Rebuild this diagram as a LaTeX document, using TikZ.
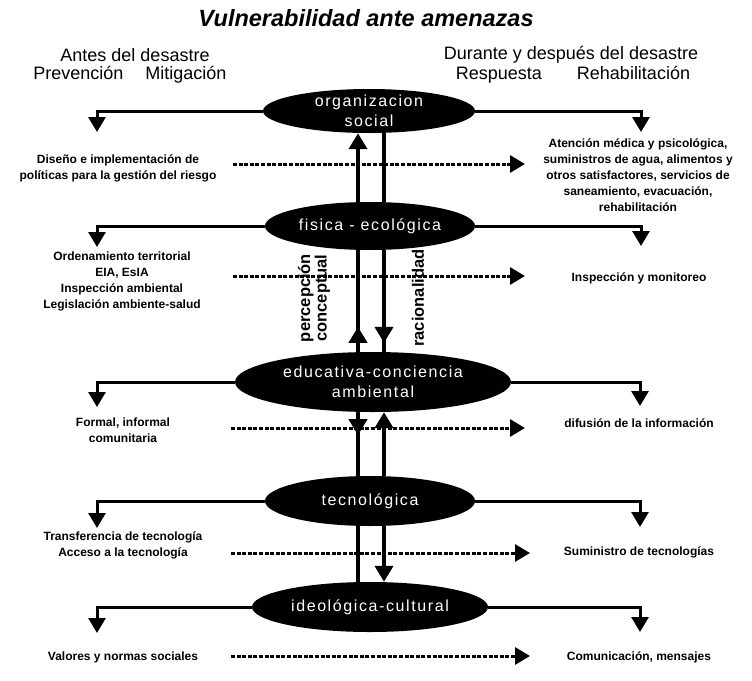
\documentclass[tikz,border=0pt]{standalone}
\usepackage{fontspec}
\setmainfont{Liberation Sans}
\newfontfamily\ellfont[LetterSpace=10]{Liberation Sans}
\usetikzlibrary{shapes.geometric,arrows.meta,decorations.markings}
\begin{document}
\begin{tikzpicture}[x=1pt,y=-1pt,
  ellshape/.style={ellipse, fill=black, draw=none, inner sep=0pt},
  elltxt/.style={text=white, align=center, inner sep=0pt, font=\ellfont\fontsize{16}{20}\selectfont},
  tipb/.style={-{Triangle[length=15pt,width=17pt]}},
  branch/.style={line width=3pt, tipb},
  vline/.style={line width=4pt},
  vtip/.style={-{Triangle[length=16pt,width=18pt]}},
  midup/.style={postaction={decorate}, decoration={markings, mark=at position #1 with {\arrow{Triangle[length=16pt,width=18pt]}}}},
  dots/.style={line width=3pt, dash pattern=on 4pt off 1.6pt, tipb},
  lbl/.style={align=center, inner sep=0pt, font=\bfseries\fontsize{12}{16}\selectfont},
  hdr/.style={align=center, inner sep=0pt, font=\fontsize{18}{20}\selectfont},
  rot/.style={rotate=90, align=center, inner sep=0pt, font=\bfseries\fontsize{16.5}{15}\selectfont}
]
\fill[white] (0,0) rectangle (752,680);
\useasboundingbox (0,0) rectangle (752,680);

% title and headers
\node[inner sep=0pt, font=\bfseries\itshape\fontsize{23.5}{26}\selectfont] (title) at (366,18) {Vulnerabilidad ante amenazas};
\node[hdr] (hL1) at (135,55) {Antes del desastre};
\node[hdr] (hL2) at (130,75) {Prevención\hspace{22pt}Mitigación};
\node[hdr] (hR1) at (571,55) {Durante y después del desastre};
\node[hdr] (hR2) at (573,75) {Respuesta\hspace{35pt}Rehabilitación};

% ellipses
\node[ellshape, minimum width=212pt, minimum height=44pt] (org) at (369,111) {};
\node[ellshape, minimum width=210pt, minimum height=48pt] (fis) at (370,226) {};
\node[ellshape, minimum width=276pt, minimum height=60pt] (edu) at (373,382) {};
\node[ellshape, minimum width=210pt, minimum height=50pt] (tec) at (370,501) {};
\node[ellshape, minimum width=236pt, minimum height=50pt] (ide) at (370,607) {};
\node[elltxt] (orgT) at (org.center) {organizacion\\social};
\node[elltxt] (fisT) at (fis.center) {fisica - ecológica};
\node[elltxt] (eduT) at (edu.center) {educativa-conciencia\\ambiental};
\node[elltxt] (tecT) at (tec.center) {tecnológica};
\node[elltxt] (ideT) at (ide.center) {ideológica-cultural};

% branch arrows
\coordinate (bL1) at (97,132);  \coordinate (bR1) at (641,132);
\coordinate (bL2) at (97,247);  \coordinate (bR2) at (641,246);
\coordinate (bL3) at (97,407);  \coordinate (bR3) at (640,406);
\coordinate (bL4) at (97,528);  \coordinate (bR4) at (640,527);
\coordinate (bL5) at (97,633);  \coordinate (bR5) at (640,632);
\draw[branch] (org.west) -| (bL1);
\draw[branch] (org.east) -| (bR1);
\draw[branch] (fis.west) -| (bL2);
\draw[branch] (fis.east) -| (bR2);
\draw[branch] (edu.west) -| (bL3);
\draw[branch] (edu.east) -| (bR3);
\draw[branch] (tec.west) -| (bL4);
\draw[branch] (tec.east) -| (bR4);
\draw[branch] (ide.west) -| (bL5);
\draw[branch] (ide.east) -| (bR5);

% dotted arrows
\coordinate (dL1) at (233,164); \coordinate (dR1) at (525,164);
\coordinate (dL2) at (233,276); \coordinate (dR2) at (525,276);
\coordinate (dL3) at (231,428); \coordinate (dR3) at (525,428);
\coordinate (dL4) at (231,553); \coordinate (dR4) at (530,553);
\coordinate (dL5) at (231,656); \coordinate (dR5) at (530,656);
\draw[dots] (dL1) -- (dR1);
\draw[dots] (dL2) -- (dR2);
\draw[dots] (dL3) -- (dR3);
\draw[dots] (dL4) -- (dR4);
\draw[dots] (dL5) -- (dR5);

% vertical connectors
\coordinate (xl) at (358,0);
\coordinate (xr) at (384,0);
\draw[vline, vtip] (fis.north -| xl) -- (org.south -| xl);
\draw[vline] (fis.north -| xr) -- (org.south -| xr);
\draw[vline, midup=25pt] (edu.north -| xl) -- (fis.south -| xl);
\draw[vline, midup=-9pt] (fis.south -| xr) -- (edu.north -| xr);
\draw[vline, midup=23pt] (edu.south -| xl) -- (tec.north -| xl);
\draw[vline, vtip] (tec.north -| xr) -- (edu.south -| xr);
\draw[vline] (tec.south -| xl) -- (ide.north -| xl);
\draw[vline, vtip] (tec.south -| xr) -- (ide.north -| xr);

% rotated labels
\node[rot] (perc) at (314,298) {percepción\\conceptual};
\node[rot] (rac) at (418,298) {racionalidad};

% left texts
\node[lbl] (tL1) at (118,168.5) {Diseño e implementación de\\políticas para la gestión del riesgo};
\node[lbl] (tL2) at (122,281) {Ordenamiento territorial\\EIA, EsIA\\Inspección ambiental\\Legislación ambiente-salud};
\node[lbl] (tL3) at (123,430.5) {Formal, informal\\comunitaria};
\node[lbl] (tL4) at (123,545) {Transferencia de tecnología\\Acceso a la tecnología};
\node[lbl] (tL5) at (123,657) {Valores y normas sociales};

% right texts
\node[lbl] (tR1) at (638,175) {Atención médica y psicológica,\\suministros de agua, alimentos y\\otros satisfactores, servicios de\\saneamiento, evacuación,\\rehabilitación};
\node[lbl] (tR2) at (639,278) {Inspección y monitoreo};
\node[lbl] (tR3) at (639,423) {difusión de la información};
\node[lbl] (tR4) at (639,552) {Suministro de tecnologías};
\node[lbl] (tR5) at (639,657) {Comunicación, mensajes};
\end{tikzpicture}
\end{document}
